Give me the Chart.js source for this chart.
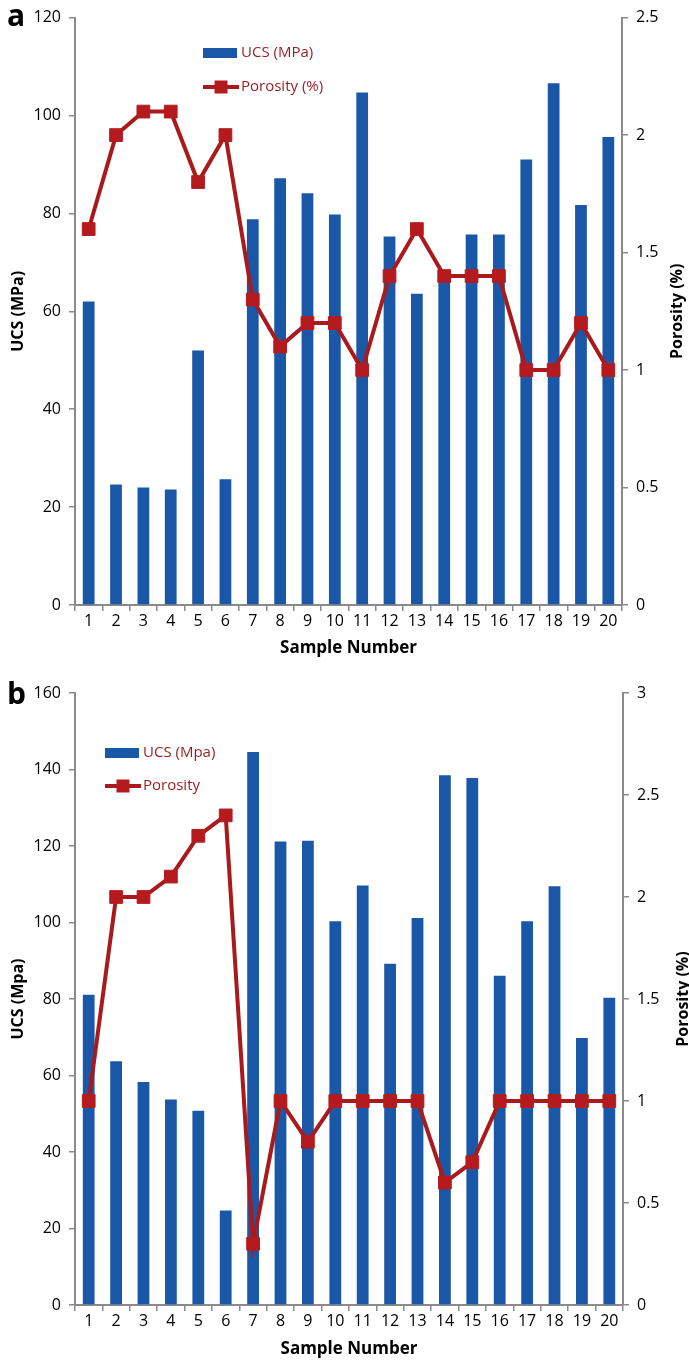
<!DOCTYPE html>
<html>
<head>
<meta charset="utf-8">
<script src="https://cdn.jsdelivr.net/npm/chart.js@4"></script>
<style>
  html, body { margin: 0; padding: 0; background: #fff; }
  body { width: 689px; height: 1365px; position: relative; overflow: hidden; }
  .wrap { position: absolute; left: 0; width: 689px; }
  #wa { top: 0; height: 670px; }
  #wb { top: 670px; height: 695px; }
</style>
</head>
<body>
<div class="wrap" id="wa"><canvas id="ca" width="689" height="670"></canvas></div>
<div class="wrap" id="wb"><canvas id="cb" width="689" height="695"></canvas></div>
<script>
// ---- Data ----
const sampleLabels = ['1','2','3','4','5','6','7','8','9','10','11','12','13','14','15','16','17','18','19','20'];

// Panel a
const ucsA = [62.0, 24.6, 24.0, 23.6, 52.0, 25.7, 78.8, 87.2, 84.1, 79.8, 104.7, 75.3, 63.6, 67.5, 75.7, 75.7, 91.0, 106.6, 81.7, 95.6];
const porosityA = [1.6, 2.0, 2.1, 2.1, 1.8, 2.0, 1.3, 1.1, 1.2, 1.2, 1.0, 1.4, 1.6, 1.4, 1.4, 1.4, 1.0, 1.0, 1.2, 1.0];
const ucsAxisA = [0, 120, 20];
const porosityAxisA = [0, 2.5, 0.5];

// Panel b
const ucsB = [81.1, 63.7, 58.3, 53.7, 50.8, 24.7, 144.6, 121.2, 121.4, 100.3, 109.7, 89.2, 101.2, 138.5, 137.8, 86.1, 100.3, 109.5, 69.8, 80.3];
const porosityB = [1.0, 2.0, 2.0, 2.1, 2.3, 2.4, 0.3, 1.0, 0.8, 1.0, 1.0, 1.0, 1.0, 0.6, 0.7, 1.0, 1.0, 1.0, 1.0, 1.0];
const ucsAxisB = [0, 160, 20];
const porosityAxisB = [0, 3, 0.5];

// ---- Styles ----
const BAR = '#1b57a7';
const LINE = '#a81a1c';
const MARK = '#b51b1e';
const LEG_TEXT = '#9b1b1e';
const AXIS = '#8a8a8a';
const FONT = "'Open Sans', 'Liberation Sans', sans-serif";

function overlayPlugin(cfg) {
  return {
    id: 'overlay_' + cfg.panel,
    afterDraw(chart) {
      const ctx = chart.ctx;
      const ca = chart.chartArea;
      ctx.save();
      ctx.fillStyle = '#000';
      ctx.font = "bold 30px " + FONT;
      ctx.textBaseline = 'middle';
      ctx.textAlign = 'left';
      ctx.fillText(cfg.panel, cfg.letterX, cfg.letterY);
      ctx.font = "bold 16px " + FONT;
      ctx.textAlign = 'center';
      ctx.translate(cfg.rightTitleX, (ca.top + ca.bottom) / 2);
      ctx.rotate(-Math.PI / 2);
      ctx.fillText(cfg.rightTitle, 0, 0);
      ctx.restore();

      ctx.save();
      const lx = cfg.legX, ly1 = cfg.legY1, ly2 = cfg.legY2;
      ctx.fillStyle = BAR;
      ctx.fillRect(lx, ly1 - 5, 34, 10);
      ctx.strokeStyle = LINE;
      ctx.lineWidth = 4;
      ctx.beginPath();
      ctx.moveTo(lx, ly2);
      ctx.lineTo(lx + 36, ly2);
      ctx.stroke();
      ctx.fillStyle = MARK;
      ctx.fillRect(lx + 18 - 6.5, ly2 - 6.5, 13, 13);
      ctx.fillStyle = LEG_TEXT;
      ctx.font = "15px " + FONT;
      ctx.textAlign = 'left';
      ctx.textBaseline = 'middle';
      ctx.fillText(chart.data.datasets[1].label, lx + 38, ly1);
      ctx.fillText(chart.data.datasets[0].label, lx + 38, ly2);
      ctx.restore();
    }
  };
}

function plainNum(v) { return String(+Number(v).toFixed(2)); }

function makeChart(canvasId, ucs, por, ucsAxis, porAxis, cfg) {
  const W = 689;
  return new Chart(document.getElementById(canvasId), {
    type: 'bar',
    data: {
      labels: sampleLabels,
      datasets: [
        {
          type: 'line',
          label: cfg.porLabel,
          data: por,
          yAxisID: 'y1',
          borderColor: LINE,
          borderWidth: 4,
          pointStyle: 'rect',
          pointRadius: 9,
          pointHoverRadius: 9,
          pointBackgroundColor: MARK,
          pointBorderColor: MARK,
          pointBorderWidth: 1,
          tension: 0,
          order: 0
        },
        {
          type: 'bar',
          label: cfg.ucsLabel,
          data: ucs,
          yAxisID: 'y',
          backgroundColor: BAR,
          borderWidth: 0,
          categoryPercentage: 1.0,
          barPercentage: 0.43,
          order: 1
        }
      ]
    },
    options: {
      responsive: false,
      animation: false,
      events: [],
      layout: { padding: { top: cfg.padTop, bottom: 0, left: 0, right: 0 } },
      plugins: { legend: { display: false }, tooltip: { enabled: false } },
      scales: {
        x: {
          offset: true,
          grid: { offset: true, drawOnChartArea: false, drawTicks: true, tickLength: 6, color: AXIS, lineWidth: 1.5 },
          border: { color: AXIS, width: 2 },
          ticks: { color: '#000', font: { family: FONT, size: 16 }, padding: 1, maxRotation: 0, autoSkip: false },
          title: { display: true, text: 'Sample Number', color: '#000', font: { family: FONT, size: 17, weight: 'bold' }, padding: { top: 0, bottom: cfg.xTitlePadBottom } },
          afterFit(s) { s.height = cfg.xHeight; }
        },
        y: {
          position: 'left',
          min: ucsAxis[0], max: ucsAxis[1],
          grid: { drawOnChartArea: false, drawTicks: true, tickLength: 6, color: AXIS, lineWidth: 1.5 },
          border: { color: AXIS, width: 2 },
          ticks: { stepSize: ucsAxis[2], color: '#000', font: { family: FONT, size: 16 }, padding: 8, callback: plainNum },
          title: { display: true, text: cfg.ucsTitle, color: '#000', font: { family: FONT, size: 16, weight: 'bold' }, padding: { top: 9, bottom: 0 } },
          afterFit(s) { s.width = cfg.plotLeft; }
        },
        y1: {
          position: 'right',
          min: porAxis[0], max: porAxis[1],
          grid: { drawOnChartArea: false, drawTicks: true, tickLength: 6, color: AXIS, lineWidth: 1.5 },
          border: { color: AXIS, width: 2 },
          ticks: { stepSize: porAxis[2], color: '#000', font: { family: FONT, size: 16 }, padding: 8, callback: plainNum },
          title: { display: false },
          afterFit(s) { s.width = W - cfg.plotRight; }
        }
      }
    },
    plugins: [overlayPlugin(cfg)]
  });
}

makeChart('ca', ucsA, porosityA, ucsAxisA, porosityAxisA, {
  panel: 'a', letterX: 7, letterY: 17,
  padTop: 16, xHeight: 65, xTitlePadBottom: 12, plotLeft: 75, plotRight: 622,
  ucsLabel: 'UCS (MPa)', porLabel: 'Porosity (%)', ucsTitle: 'UCS (MPa)',
  rightTitle: 'Porosity (%)', rightTitleX: 677,
  legX: 203, legY1: 53, legY2: 87
});

makeChart('cb', ucsB, porosityB, ucsAxisB, porosityAxisB, {
  panel: 'b', letterX: 7, letterY: 25,
  padTop: 23, xHeight: 60, xTitlePadBottom: 6, plotLeft: 75, plotRight: 623,
  ucsLabel: 'UCS (Mpa)', porLabel: 'Porosity', ucsTitle: 'UCS (Mpa)',
  rightTitle: 'Porosity (%)', rightTitleX: 683,
  legX: 105, legY1: 83, legY2: 116
});
</script>
</body>
</html>
